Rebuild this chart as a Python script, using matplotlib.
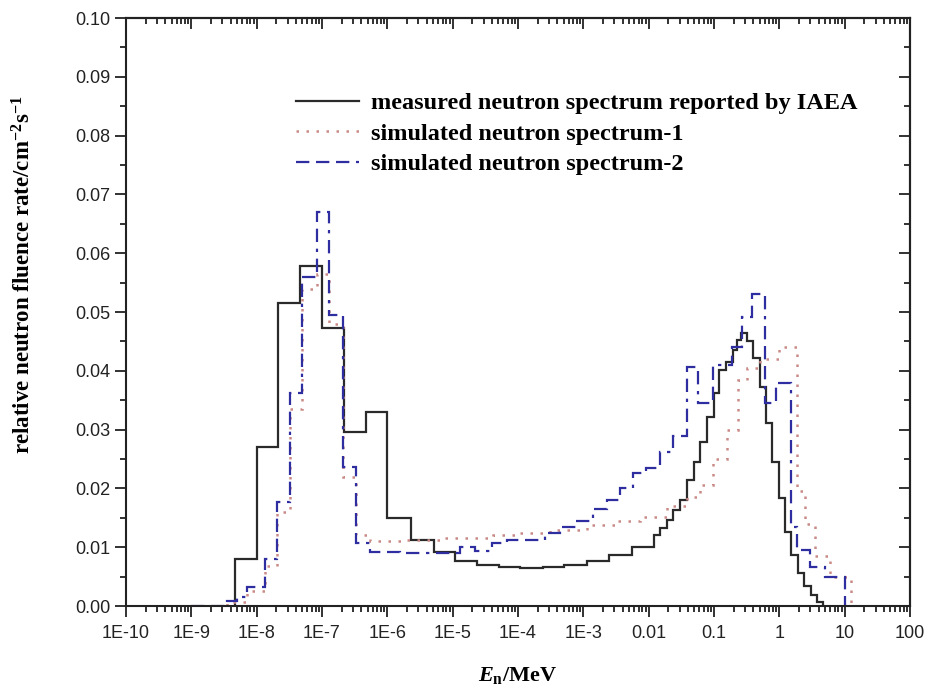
import numpy as np
import matplotlib
matplotlib.use("Agg")
import matplotlib.pyplot as plt
from matplotlib.ticker import LogLocator, FixedLocator, FixedFormatter, MultipleLocator, NullFormatter

# measured neutron spectrum (IAEA) - bin edges as log10(E/MeV), values per bin
meas_edges = [-8.333, -8.0, -7.667, -7.333, -7.0, -6.667, -6.333, -6.0, -5.64,
              -5.29, -4.96, -4.63, -4.29, -3.97, -3.61, -3.29, -2.945, -2.61,
              -2.26, -1.92, -1.82, -1.72, -1.62, -1.52, -1.41, -1.31, -1.21,
              -1.11, -1.0, -0.92, -0.82, -0.71, -0.64, -0.59, -0.5, -0.4, -0.3,
              -0.2, -0.11, 0.0, 0.09, 0.18, 0.28, 0.38, 0.48, 0.58, 0.67]
meas_vals = [0.0080, 0.0270, 0.0515, 0.0578, 0.0473, 0.0296, 0.0330, 0.0150,
             0.0112, 0.0092, 0.0077, 0.0070, 0.0066, 0.0065, 0.0066, 0.0070,
             0.0077, 0.0086, 0.0101, 0.0121, 0.0132, 0.0146, 0.0163, 0.0180,
             0.0214, 0.0245, 0.0279, 0.0322, 0.0362, 0.0401, 0.0415, 0.0435,
             0.0452, 0.0464, 0.0450, 0.0421, 0.0373, 0.0311, 0.0245, 0.0183,
             0.0126, 0.0087, 0.0057, 0.0034, 0.0019, 0.0007]

# simulated neutron spectrum-1
sim1_edges = [-8.45, -8.15, -7.87, -7.69, -7.49, -7.30, -7.07, -6.90, -6.68,
              -6.48, -6.26, -5.70, -5.15, -4.38, -4.01, -3.51, -2.94, -2.48,
              -2.13, -1.715, -1.41, -1.21, -1.011, -0.80, -0.628, -0.49, -0.29,
              0.0, 0.277, 0.40, 0.55, 0.77, 1.1]
sim1_vals = [0.0007, 0.0025, 0.0068, 0.0160, 0.0335, 0.0540, 0.0565, 0.0480,
             0.0220, 0.0120, 0.0110, 0.0112, 0.0116, 0.0120, 0.0124, 0.0130,
             0.0138, 0.0145, 0.0152, 0.0170, 0.0185, 0.0205, 0.0250, 0.0300,
             0.0385, 0.0405, 0.0420, 0.0440, 0.0195, 0.0140, 0.0085, 0.0050]

# simulated neutron spectrum-2
sim2_edges = [-9.0, -8.45, -8.3, -8.15, -7.87, -7.69, -7.49, -7.30, -7.07,
              -6.90, -6.68, -6.48, -6.263, -5.804, -5.299, -4.885, -4.655,
              -4.395, -4.165, -3.859, -3.583, -3.354, -3.109, -2.848, -2.634,
              -2.435, -2.236, -2.037, -1.822, -1.623, -1.414, -1.240, -1.011,
              -0.720, -0.567, -0.413, -0.214, -0.054, 0.176, 0.268, 0.467,
              0.697, 1.003]
sim2_vals = [0.0, 0.0008, 0.0015, 0.0032, 0.0080, 0.0177, 0.0362, 0.0560,
             0.0670, 0.0495, 0.0237, 0.0107, 0.0092, 0.0090, 0.0090, 0.0100,
             0.0093, 0.0107, 0.0112, 0.0113, 0.0125, 0.0134, 0.0145, 0.0165,
             0.0180, 0.0200, 0.0226, 0.0235, 0.0262, 0.0290, 0.0407, 0.0345,
             0.0410, 0.0440, 0.0492, 0.0530, 0.0345, 0.0380, 0.0134, 0.0095,
             0.0067, 0.0050]

xtick_labels = ["1E-10", "1E-9", "1E-8", "1E-7", "1E-6", "1E-5", "1E-4",
                "1E-3", "0.01", "0.1", "1", "10", "100"]

plt.rcParams["mathtext.fontset"] = "custom"
plt.rcParams["mathtext.rm"] = "Liberation Serif:bold"
plt.rcParams["mathtext.it"] = "Liberation Serif:italic:bold"
plt.rcParams["mathtext.bf"] = "Liberation Serif:bold"

fig = plt.figure(figsize=(9.38, 6.93), dpi=100)
ax = fig.add_axes([0.1343, 0.1255, 0.8358, 0.8485])

ax.stairs(meas_vals, 10.0 ** np.array(meas_edges), baseline=0, color="#2a2a2a",
          lw=1.6, label="measured neutron spectrum reported by IAEA")
ax.stairs(sim1_vals, 10.0 ** np.array(sim1_edges), baseline=0, color="#c98a86",
          lw=1.8, linestyle=(0, (1, 3)), label="simulated neutron spectrum-1")
ax.stairs(sim2_vals, 10.0 ** np.array(sim2_edges), baseline=0, color="#2e2ea0",
          lw=1.6, linestyle=(0, (6, 3, 6, 3, 6, 3, 1.5, 3)),
          label="simulated neutron spectrum-2")

ax.set_xscale("log")
ax.set_xlim(1e-10, 100)
ax.set_ylim(0, 0.10)

major = [10.0 ** k for k in range(-10, 3)]
minor_loc = LogLocator(base=10, subs=np.arange(2, 10), numticks=100)
ax.xaxis.set_major_locator(FixedLocator(major))
ax.xaxis.set_major_formatter(FixedFormatter(xtick_labels))
ax.xaxis.set_minor_locator(minor_loc)
ax.xaxis.set_minor_formatter(NullFormatter())
ax.yaxis.set_major_locator(MultipleLocator(0.01))
ax.yaxis.set_minor_locator(MultipleLocator(0.005))
ax.yaxis.set_major_formatter(plt.FuncFormatter(lambda v, p: "%.2f" % v))

ax.tick_params(axis="both", which="both", direction="out", width=1.3,
               labelsize=13, colors="#222222")
ax.tick_params(axis="both", which="major", length=8)
ax.tick_params(axis="both", which="minor", length=4)
for lab in ax.get_xticklabels() + ax.get_yticklabels():
    lab.set_fontfamily("Liberation Sans")
for sp in ax.spines.values():
    sp.set_linewidth(1.5)
    sp.set_color("#222222")
ax.xaxis.set_tick_params(which="both", pad=6)

# inward ticks on the top and right borders
top = ax.secondary_xaxis("top")
top.xaxis.set_major_locator(FixedLocator(major))
top.xaxis.set_minor_locator(LogLocator(base=10, subs=np.arange(2, 10), numticks=100))
top.tick_params(which="both", direction="in", labeltop=False, width=1.3, colors="#222222")
top.tick_params(which="major", length=8)
top.tick_params(which="minor", length=4)
right = ax.secondary_yaxis("right")
right.yaxis.set_major_locator(MultipleLocator(0.01))
right.yaxis.set_minor_locator(MultipleLocator(0.005))
right.tick_params(which="both", direction="in", labelright=False, width=1.3, colors="#222222")
right.tick_params(which="major", length=8)
right.tick_params(which="minor", length=4)
for s in (top, right):
    for sp in s.spines.values():
        sp.set_linewidth(1.5)
        sp.set_color("#222222")

ax.set_ylabel(r"relative neutron fluence rate/cm$^{-2}$s$^{-1}$",
              fontfamily="Liberation Serif", fontweight="bold", fontsize=16.5)
ax.yaxis.set_label_coords(-0.116, 0.563)
ax.set_xlabel(r"$\mathit{E}_\mathrm{n}$/MeV", fontfamily="Liberation Serif",
              fontweight="bold", fontsize=16, labelpad=16)

leg = ax.legend(loc="upper left", bbox_to_anchor=(0.217, 0.874), frameon=False,
                handlelength=2.6, handletextpad=0.5, labelspacing=0.35,
                borderpad=0, borderaxespad=0,
                prop={"family": "Liberation Serif", "weight": "bold", "size": 17.5})

fig.savefig("out.png", dpi=100)
